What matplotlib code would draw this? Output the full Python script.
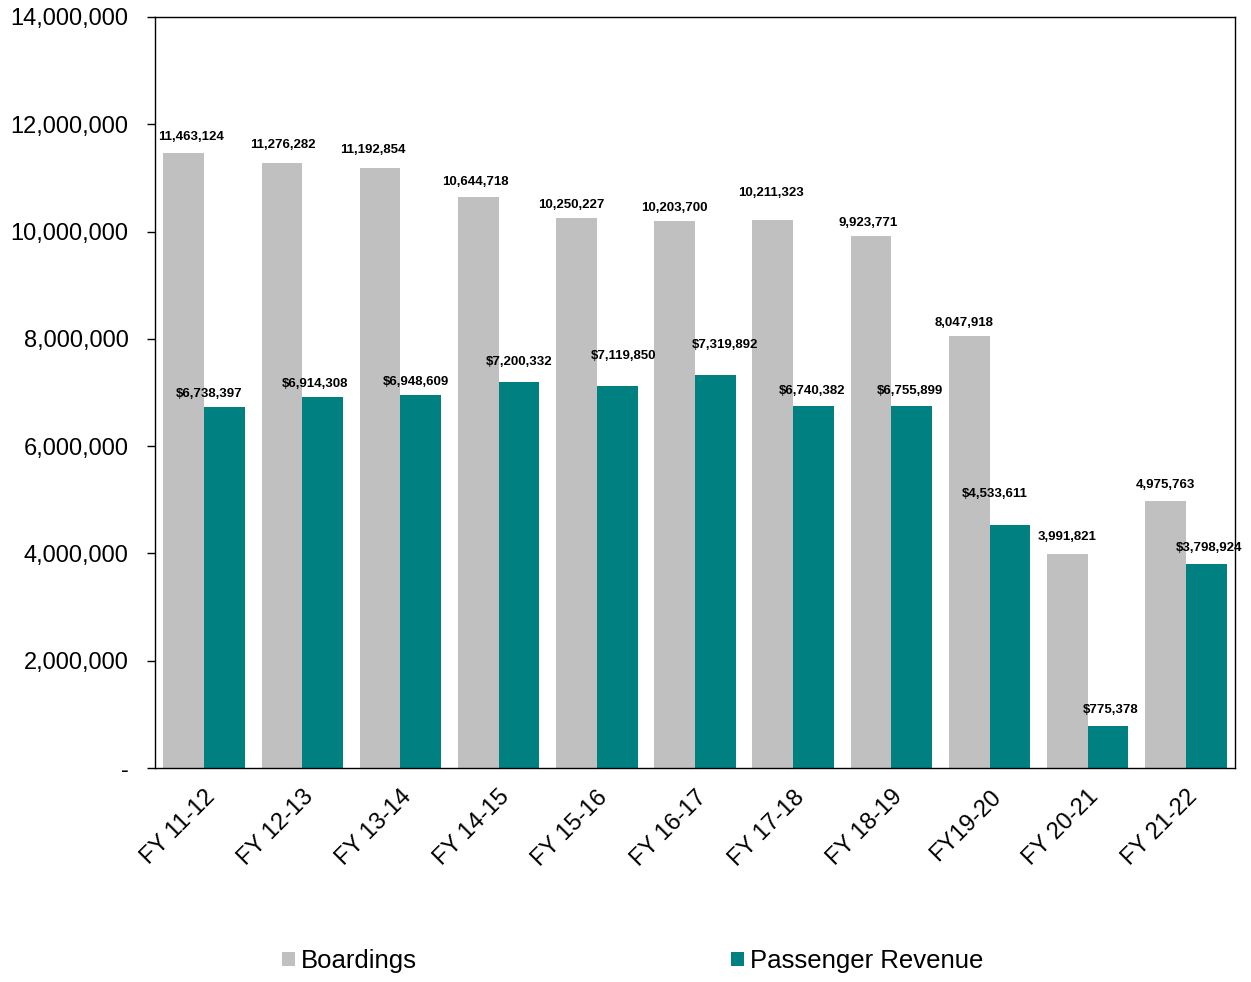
import matplotlib.pyplot as plt
import numpy as np

plt.rcParams['font.family'] = ['Liberation Sans', 'DejaVu Sans']

years = ['FY 11-12', 'FY 12-13', 'FY 13-14', 'FY 14-15', 'FY 15-16', 'FY 16-17',
         'FY 17-18', 'FY 18-19', 'FY19-20', 'FY 20-21', 'FY 21-22']
boardings = [11463124, 11276282, 11192854, 10644718, 10250227, 10203700,
             10211323, 9923771, 8047918, 3991821, 4975763]
revenue = [6738397, 6914308, 6948609, 7200332, 7119850, 7319892,
           6740382, 6755899, 4533611, 775378, 3798924]

# label nudges in pixels (dx, dy above the bar top)
board_off = [(7, 16), (1, 18), (-7, 18), (-3, 15), (-5, 13), (0, 13),
             (-2, 27), (-3, 13), (-5, 13), (0, 17), (0, 16)]
rev_off = [(-15, 13), (-8, 13), (-5, 13), (0, 20), (6, 30), (10, 30),
           (-1, 15), (-2, 15), (-15, 31), (3, 16), (3, 16)]

fig = plt.figure(figsize=(12.51, 9.82), dpi=100)
ax = fig.add_axes([0.1239, 0.2179, 0.8633, 0.7648])

x = np.arange(len(years))
w = 0.415
b1 = ax.bar(x - w / 2, boardings, w, color='#C0C0C0', label='Boardings')
b2 = ax.bar(x + w / 2, revenue, w, color='#008080', label='Passenger Revenue')

for bar, v, (dx, dy) in zip(b1, boardings, board_off):
    ax.annotate(f'{v:,}', (bar.get_x() + bar.get_width() / 2, v),
                xytext=(dx, dy), textcoords='offset pixels',
                ha='center', va='center', fontsize=9.5, fontweight='bold')
for bar, v, (dx, dy) in zip(b2, revenue, rev_off):
    ax.annotate(f'${v:,}', (bar.get_x() + bar.get_width() / 2, v),
                xytext=(dx, dy), textcoords='offset pixels',
                ha='center', va='center', fontsize=9.5, fontweight='bold',
                annotation_clip=False)

ax.set_xlim(-0.5, len(years) - 0.5)
ax.set_ylim(0, 14000000)
yt = np.arange(0, 14000001, 2000000)
ax.set_yticks(yt)
ax.set_yticklabels(['-'] + [f'{t:,}' for t in yt[1:]], fontsize=17)
ax.tick_params(axis='y', direction='out', length=6, width=1, pad=13)
ax.set_xticks(x)
ax.set_xticklabels(years, fontsize=17, rotation=45, ha='right',
                   rotation_mode='anchor')
ax.tick_params(axis='x', length=0, pad=13)
for s in ax.spines.values():
    s.set_color('black')
    s.set_linewidth(1)

fig.legend(loc='center', bbox_to_anchor=(632.5 / 1251, 1 - 961 / 982),
           ncol=2, frameon=False, fontsize=18.5, handlelength=0.5,
           handleheight=0.5, handletextpad=0.23, columnspacing=12.25)

fig.savefig('out.png', dpi=100)
